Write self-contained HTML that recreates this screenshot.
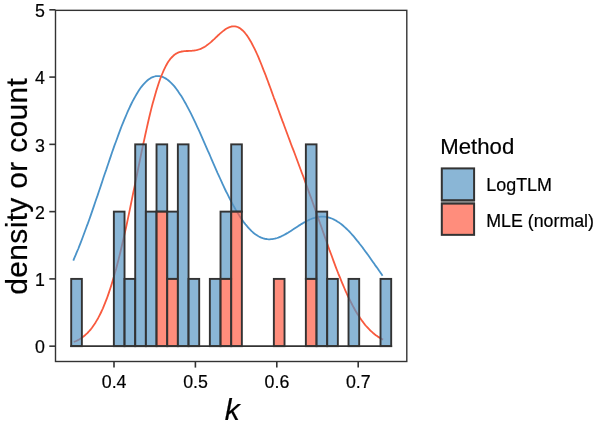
<!DOCTYPE html>
<html><head><meta charset="utf-8"><title>Histogram</title>
<style>
html,body{margin:0;padding:0;background:#fff;}
svg{display:block;}
text{font-family:"Liberation Sans",Arial,sans-serif;fill:#000;stroke:#000;stroke-width:0.2px;}
</style></head><body>
<svg width="597" height="425" viewBox="0 0 597 425">
<rect x="0" y="0" width="597" height="425" fill="#ffffff"/>

<path d="M73.3,260.6 L74.5,257.7 L75.7,254.9 L76.9,251.9 L78.2,249.0 L79.4,245.9 L80.6,242.9 L81.8,239.7 L83.0,236.5 L84.2,233.3 L85.4,230.0 L86.6,226.7 L87.9,223.4 L89.1,220.0 L90.3,216.6 L91.5,213.1 L92.7,209.6 L93.9,206.1 L95.1,202.5 L96.3,199.0 L97.6,195.4 L98.8,191.8 L100.0,188.2 L101.2,184.6 L102.4,181.0 L103.6,177.3 L104.8,173.7 L106.1,170.1 L107.3,166.5 L108.5,163.0 L109.7,159.4 L110.9,155.9 L112.1,152.3 L113.3,148.9 L114.5,145.4 L115.8,142.0 L117.0,138.7 L118.2,135.4 L119.4,132.1 L120.6,128.9 L121.8,125.8 L123.0,122.8 L124.2,119.8 L125.5,116.8 L126.7,114.0 L127.9,111.2 L129.1,108.6 L130.3,106.0 L131.5,103.5 L132.7,101.1 L134.0,98.8 L135.2,96.6 L136.4,94.5 L137.6,92.5 L138.8,90.6 L140.0,88.8 L141.2,87.1 L142.4,85.6 L143.7,84.1 L144.9,82.8 L146.1,81.6 L147.3,80.5 L148.5,79.5 L149.7,78.7 L150.9,77.9 L152.1,77.3 L153.4,76.8 L154.6,76.5 L155.8,76.2 L157.0,76.1 L158.2,76.1 L159.4,76.2 L160.6,76.4 L161.9,76.7 L163.1,77.1 L164.3,77.7 L165.5,78.4 L166.7,79.1 L167.9,80.0 L169.1,81.0 L170.3,82.1 L171.6,83.3 L172.8,84.6 L174.0,85.9 L175.2,87.4 L176.4,89.0 L177.6,90.6 L178.8,92.4 L180.0,94.2 L181.3,96.1 L182.5,98.0 L183.7,100.1 L184.9,102.2 L186.1,104.3 L187.3,106.6 L188.5,108.9 L189.7,111.2 L191.0,113.6 L192.2,116.1 L193.4,118.6 L194.6,121.1 L195.8,123.7 L197.0,126.3 L198.2,128.9 L199.5,131.6 L200.7,134.3 L201.9,137.1 L203.1,139.8 L204.3,142.6 L205.5,145.3 L206.7,148.1 L207.9,150.9 L209.2,153.7 L210.4,156.5 L211.6,159.3 L212.8,162.1 L214.0,164.9 L215.2,167.6 L216.4,170.4 L217.6,173.1 L218.9,175.8 L220.1,178.5 L221.3,181.2 L222.5,183.8 L223.7,186.4 L224.9,189.0 L226.1,191.5 L227.4,193.9 L228.6,196.4 L229.8,198.8 L231.0,201.1 L232.2,203.4 L233.4,205.6 L234.6,207.8 L235.8,209.9 L237.1,212.0 L238.3,213.9 L239.5,215.9 L240.7,217.7 L241.9,219.5 L243.1,221.2 L244.3,222.9 L245.5,224.4 L246.8,225.9 L248.0,227.3 L249.2,228.7 L250.4,229.9 L251.6,231.1 L252.8,232.2 L254.0,233.2 L255.3,234.2 L256.5,235.0 L257.7,235.8 L258.9,236.5 L260.1,237.1 L261.3,237.7 L262.5,238.1 L263.7,238.5 L265.0,238.8 L266.2,239.0 L267.4,239.2 L268.6,239.3 L269.8,239.3 L271.0,239.2 L272.2,239.1 L273.4,238.9 L274.7,238.7 L275.9,238.3 L277.1,238.0 L278.3,237.6 L279.5,237.1 L280.7,236.6 L281.9,236.0 L283.2,235.4 L284.4,234.8 L285.6,234.1 L286.8,233.4 L288.0,232.7 L289.2,231.9 L290.4,231.2 L291.6,230.4 L292.9,229.6 L294.1,228.8 L295.3,228.0 L296.5,227.2 L297.7,226.4 L298.9,225.6 L300.1,224.9 L301.3,224.1 L302.6,223.4 L303.8,222.6 L305.0,222.0 L306.2,221.3 L307.4,220.7 L308.6,220.1 L309.8,219.5 L311.1,219.0 L312.3,218.5 L313.5,218.1 L314.7,217.8 L315.9,217.4 L317.1,217.2 L318.3,217.0 L319.5,216.8 L320.8,216.7 L322.0,216.7 L323.2,216.7 L324.4,216.7 L325.6,216.9 L326.8,217.1 L328.0,217.4 L329.2,217.7 L330.5,218.1 L331.7,218.5 L332.9,219.0 L334.1,219.6 L335.3,220.2 L336.5,220.9 L337.7,221.7 L339.0,222.5 L340.2,223.4 L341.4,224.3 L342.6,225.3 L343.8,226.3 L345.0,227.4 L346.2,228.5 L347.4,229.7 L348.7,230.9 L349.9,232.2 L351.1,233.5 L352.3,234.8 L353.5,236.2 L354.7,237.6 L355.9,239.1 L357.1,240.6 L358.4,242.1 L359.6,243.7 L360.8,245.2 L362.0,246.8 L363.2,248.4 L364.4,250.1 L365.6,251.7 L366.9,253.4 L368.1,255.1 L369.3,256.8 L370.5,258.5 L371.7,260.2 L372.9,261.9 L374.1,263.6 L375.3,265.4 L376.6,267.1 L377.8,268.8 L379.0,270.6 L380.2,272.3 L381.4,274.0 L382.6,275.7" fill="none" stroke="#4a93c9" stroke-width="1.8" stroke-linejoin="round"/>
<path d="M73.8,342.0 L75.0,341.5 L76.2,341.0 L77.4,340.4 L78.7,339.7 L79.9,339.0 L81.1,338.2 L82.3,337.4 L83.5,336.5 L84.7,335.5 L85.9,334.4 L87.1,333.3 L88.4,332.0 L89.6,330.7 L90.8,329.3 L92.0,327.7 L93.2,326.0 L94.4,324.3 L95.6,322.4 L96.8,320.4 L98.1,318.2 L99.3,315.9 L100.5,313.5 L101.7,311.0 L102.9,308.3 L104.1,305.4 L105.3,302.4 L106.6,299.2 L107.8,295.9 L109.0,292.4 L110.2,288.8 L111.4,285.0 L112.6,281.0 L113.8,276.9 L115.0,272.6 L116.3,268.2 L117.5,263.6 L118.7,258.9 L119.9,254.0 L121.1,249.0 L122.3,243.8 L123.5,238.6 L124.7,233.2 L126.0,227.7 L127.2,222.1 L128.4,216.4 L129.6,210.6 L130.8,204.7 L132.0,198.9 L133.2,192.9 L134.5,187.0 L135.7,181.0 L136.9,175.0 L138.1,169.0 L139.3,163.1 L140.5,157.2 L141.7,151.3 L142.9,145.6 L144.2,139.9 L145.4,134.3 L146.6,128.9 L147.8,123.5 L149.0,118.3 L150.2,113.3 L151.4,108.4 L152.6,103.7 L153.9,99.2 L155.1,94.9 L156.3,90.8 L157.5,86.9 L158.7,83.2 L159.9,79.7 L161.1,76.5 L162.4,73.5 L163.6,70.6 L164.8,68.1 L166.0,65.7 L167.2,63.5 L168.4,61.6 L169.6,59.9 L170.8,58.3 L172.1,57.0 L173.3,55.8 L174.5,54.8 L175.7,53.9 L176.9,53.2 L178.1,52.6 L179.3,52.2 L180.5,51.8 L181.8,51.5 L183.0,51.3 L184.2,51.2 L185.4,51.1 L186.6,51.0 L187.8,51.0 L189.0,50.9 L190.2,50.9 L191.5,50.8 L192.7,50.7 L193.9,50.6 L195.1,50.4 L196.3,50.2 L197.5,49.9 L198.7,49.5 L200.0,49.1 L201.2,48.6 L202.4,48.0 L203.6,47.4 L204.8,46.7 L206.0,45.9 L207.2,45.0 L208.4,44.1 L209.7,43.1 L210.9,42.1 L212.1,41.0 L213.3,39.9 L214.5,38.8 L215.7,37.6 L216.9,36.5 L218.1,35.3 L219.4,34.2 L220.6,33.1 L221.8,32.1 L223.0,31.1 L224.2,30.2 L225.4,29.3 L226.6,28.5 L227.9,27.9 L229.1,27.3 L230.3,26.9 L231.5,26.5 L232.7,26.3 L233.9,26.3 L235.1,26.4 L236.3,26.6 L237.6,27.0 L238.8,27.6 L240.0,28.3 L241.2,29.2 L242.4,30.2 L243.6,31.4 L244.8,32.7 L246.0,34.2 L247.3,35.9 L248.5,37.7 L249.7,39.7 L250.9,41.7 L252.1,44.0 L253.3,46.3 L254.5,48.7 L255.8,51.3 L257.0,54.0 L258.2,56.7 L259.4,59.6 L260.6,62.5 L261.8,65.5 L263.0,68.6 L264.2,71.7 L265.5,74.8 L266.7,78.1 L267.9,81.3 L269.1,84.6 L270.3,87.8 L271.5,91.1 L272.7,94.5 L273.9,97.8 L275.2,101.1 L276.4,104.4 L277.6,107.7 L278.8,111.0 L280.0,114.4 L281.2,117.6 L282.4,120.9 L283.7,124.2 L284.9,127.5 L286.1,130.7 L287.3,134.0 L288.5,137.2 L289.7,140.4 L290.9,143.7 L292.1,146.9 L293.4,150.1 L294.6,153.3 L295.8,156.5 L297.0,159.8 L298.2,163.0 L299.4,166.2 L300.6,169.5 L301.8,172.7 L303.1,176.0 L304.3,179.3 L305.5,182.6 L306.7,185.9 L307.9,189.2 L309.1,192.6 L310.3,195.9 L311.6,199.3 L312.8,202.7 L314.0,206.1 L315.2,209.5 L316.4,212.9 L317.6,216.4 L318.8,219.8 L320.0,223.3 L321.3,226.7 L322.5,230.2 L323.7,233.6 L324.9,237.1 L326.1,240.5 L327.3,243.9 L328.5,247.3 L329.7,250.7 L331.0,254.0 L332.2,257.3 L333.4,260.6 L334.6,263.9 L335.8,267.1 L337.0,270.2 L338.2,273.3 L339.5,276.4 L340.7,279.4 L341.9,282.3 L343.1,285.2 L344.3,288.0 L345.5,290.8 L346.7,293.5 L347.9,296.1 L349.2,298.6 L350.4,301.1 L351.6,303.5 L352.8,305.8 L354.0,308.0 L355.2,310.2 L356.4,312.2 L357.6,314.2 L358.9,316.1 L360.1,318.0 L361.3,319.7 L362.5,321.4 L363.7,323.0 L364.9,324.6 L366.1,326.0 L367.4,327.4 L368.6,328.7 L369.8,330.0 L371.0,331.1 L372.2,332.2 L373.4,333.3 L374.6,334.3 L375.8,335.2 L377.1,336.1 L378.3,336.9 L379.5,337.6 L380.7,338.4 L381.9,339.0 L383.1,339.6" fill="none" stroke="#f85a3e" stroke-width="1.8" stroke-linejoin="round"/>
<g><rect x="71.20" y="278.90" width="10.67" height="67.27" fill="rgb(88,151,196)" fill-opacity="0.7" stroke="#333333" stroke-width="1.9" stroke-linejoin="miter"/>
<rect x="113.86" y="211.63" width="10.67" height="134.54" fill="rgb(88,151,196)" fill-opacity="0.7" stroke="#333333" stroke-width="1.9" stroke-linejoin="miter"/>
<rect x="124.53" y="278.90" width="10.67" height="67.27" fill="rgb(88,151,196)" fill-opacity="0.7" stroke="#333333" stroke-width="1.9" stroke-linejoin="miter"/>
<rect x="135.20" y="144.36" width="10.67" height="201.81" fill="rgb(88,151,196)" fill-opacity="0.7" stroke="#333333" stroke-width="1.9" stroke-linejoin="miter"/>
<rect x="145.86" y="211.63" width="10.67" height="134.54" fill="rgb(88,151,196)" fill-opacity="0.7" stroke="#333333" stroke-width="1.9" stroke-linejoin="miter"/>
<rect x="156.53" y="144.36" width="10.67" height="67.27" fill="rgb(88,151,196)" fill-opacity="0.7" stroke="#333333" stroke-width="1.9" stroke-linejoin="miter"/>
<rect x="156.53" y="211.63" width="10.67" height="134.54" fill="rgb(255,93,68)" fill-opacity="0.7" stroke="#333333" stroke-width="1.9" stroke-linejoin="miter"/>
<rect x="167.20" y="211.63" width="10.67" height="67.27" fill="rgb(88,151,196)" fill-opacity="0.7" stroke="#333333" stroke-width="1.9" stroke-linejoin="miter"/>
<rect x="167.20" y="278.90" width="10.67" height="67.27" fill="rgb(255,93,68)" fill-opacity="0.7" stroke="#333333" stroke-width="1.9" stroke-linejoin="miter"/>
<rect x="177.86" y="144.36" width="10.67" height="201.81" fill="rgb(88,151,196)" fill-opacity="0.7" stroke="#333333" stroke-width="1.9" stroke-linejoin="miter"/>
<rect x="188.53" y="278.90" width="10.67" height="67.27" fill="rgb(88,151,196)" fill-opacity="0.7" stroke="#333333" stroke-width="1.9" stroke-linejoin="miter"/>
<rect x="209.86" y="278.90" width="10.67" height="67.27" fill="rgb(88,151,196)" fill-opacity="0.7" stroke="#333333" stroke-width="1.9" stroke-linejoin="miter"/>
<rect x="220.53" y="211.63" width="10.67" height="67.27" fill="rgb(88,151,196)" fill-opacity="0.7" stroke="#333333" stroke-width="1.9" stroke-linejoin="miter"/>
<rect x="220.53" y="278.90" width="10.67" height="67.27" fill="rgb(255,93,68)" fill-opacity="0.7" stroke="#333333" stroke-width="1.9" stroke-linejoin="miter"/>
<rect x="231.19" y="144.36" width="10.67" height="67.27" fill="rgb(88,151,196)" fill-opacity="0.7" stroke="#333333" stroke-width="1.9" stroke-linejoin="miter"/>
<rect x="231.19" y="211.63" width="10.67" height="134.54" fill="rgb(255,93,68)" fill-opacity="0.7" stroke="#333333" stroke-width="1.9" stroke-linejoin="miter"/>
<rect x="273.86" y="278.90" width="10.67" height="67.27" fill="rgb(255,93,68)" fill-opacity="0.7" stroke="#333333" stroke-width="1.9" stroke-linejoin="miter"/>
<rect x="305.86" y="144.36" width="10.67" height="134.54" fill="rgb(88,151,196)" fill-opacity="0.7" stroke="#333333" stroke-width="1.9" stroke-linejoin="miter"/>
<rect x="305.86" y="278.90" width="10.67" height="67.27" fill="rgb(255,93,68)" fill-opacity="0.7" stroke="#333333" stroke-width="1.9" stroke-linejoin="miter"/>
<rect x="316.52" y="211.63" width="10.67" height="134.54" fill="rgb(88,151,196)" fill-opacity="0.7" stroke="#333333" stroke-width="1.9" stroke-linejoin="miter"/>
<rect x="327.19" y="278.90" width="10.67" height="67.27" fill="rgb(88,151,196)" fill-opacity="0.7" stroke="#333333" stroke-width="1.9" stroke-linejoin="miter"/>
<rect x="348.52" y="278.90" width="10.67" height="67.27" fill="rgb(88,151,196)" fill-opacity="0.7" stroke="#333333" stroke-width="1.9" stroke-linejoin="miter"/>
<rect x="380.52" y="278.90" width="10.67" height="67.27" fill="rgb(88,151,196)" fill-opacity="0.7" stroke="#333333" stroke-width="1.9" stroke-linejoin="miter"/>
<line x1="70.25" x2="392.14" y1="346.17" y2="346.17" stroke="#333333" stroke-width="1.9"/></g>
<rect x="55.5" y="10.35" width="351.30" height="351.15" fill="none" stroke="#333333" stroke-width="1.4"/>
<line x1="49.3" x2="55.5" y1="346.17" y2="346.17" stroke="#333333" stroke-width="1.6"/>
<text x="44.9" y="353.47" font-size="17.8" text-anchor="end">0</text>
<line x1="49.3" x2="55.5" y1="278.90" y2="278.90" stroke="#333333" stroke-width="1.6"/>
<text x="44.9" y="286.20" font-size="17.8" text-anchor="end">1</text>
<line x1="49.3" x2="55.5" y1="211.63" y2="211.63" stroke="#333333" stroke-width="1.6"/>
<text x="44.9" y="218.93" font-size="17.8" text-anchor="end">2</text>
<line x1="49.3" x2="55.5" y1="144.36" y2="144.36" stroke="#333333" stroke-width="1.6"/>
<text x="44.9" y="151.66" font-size="17.8" text-anchor="end">3</text>
<line x1="49.3" x2="55.5" y1="77.09" y2="77.09" stroke="#333333" stroke-width="1.6"/>
<text x="44.9" y="84.39" font-size="17.8" text-anchor="end">4</text>
<line x1="49.3" x2="55.5" y1="9.82" y2="9.82" stroke="#333333" stroke-width="1.6"/>
<text x="44.9" y="17.12" font-size="17.8" text-anchor="end">5</text>
<line x1="114.00" x2="114.00" y1="361.5" y2="367.6" stroke="#333333" stroke-width="1.6"/>
<text x="114.15" y="388" font-size="17.8" text-anchor="middle">0.4</text>
<line x1="195.40" x2="195.40" y1="361.5" y2="367.6" stroke="#333333" stroke-width="1.6"/>
<text x="195.55" y="388" font-size="17.8" text-anchor="middle">0.5</text>
<line x1="276.80" x2="276.80" y1="361.5" y2="367.6" stroke="#333333" stroke-width="1.6"/>
<text x="276.95" y="388" font-size="17.8" text-anchor="middle">0.6</text>
<line x1="358.20" x2="358.20" y1="361.5" y2="367.6" stroke="#333333" stroke-width="1.6"/>
<text x="358.35" y="388" font-size="17.8" text-anchor="middle">0.7</text>
<text x="232.3" y="420.2" font-size="30" font-style="italic" text-anchor="middle">k</text>
<text transform="translate(26.9,186.25) rotate(-90)" font-size="30" letter-spacing="0.31" text-anchor="middle">density or count</text>
<text x="440.3" y="154.4" font-size="22.2">Method</text>
<line x1="440.9" x2="474.95" y1="202.0" y2="202.0" stroke="#9a9a9a" stroke-width="1.8"/>
<rect x="441.8" y="168.4" width="32.3" height="31.8" fill="rgb(88,151,196)" fill-opacity="0.7" stroke="#333333" stroke-width="2"/>
<rect x="441.8" y="203.6" width="32.3" height="31.25" fill="rgb(255,93,68)" fill-opacity="0.7" stroke="#333333" stroke-width="2"/>
<text x="486.3" y="191.4" font-size="17.9">LogTLM</text>
<text x="486.3" y="226.9" font-size="17.8">MLE (normal)</text>
</svg></body></html>
